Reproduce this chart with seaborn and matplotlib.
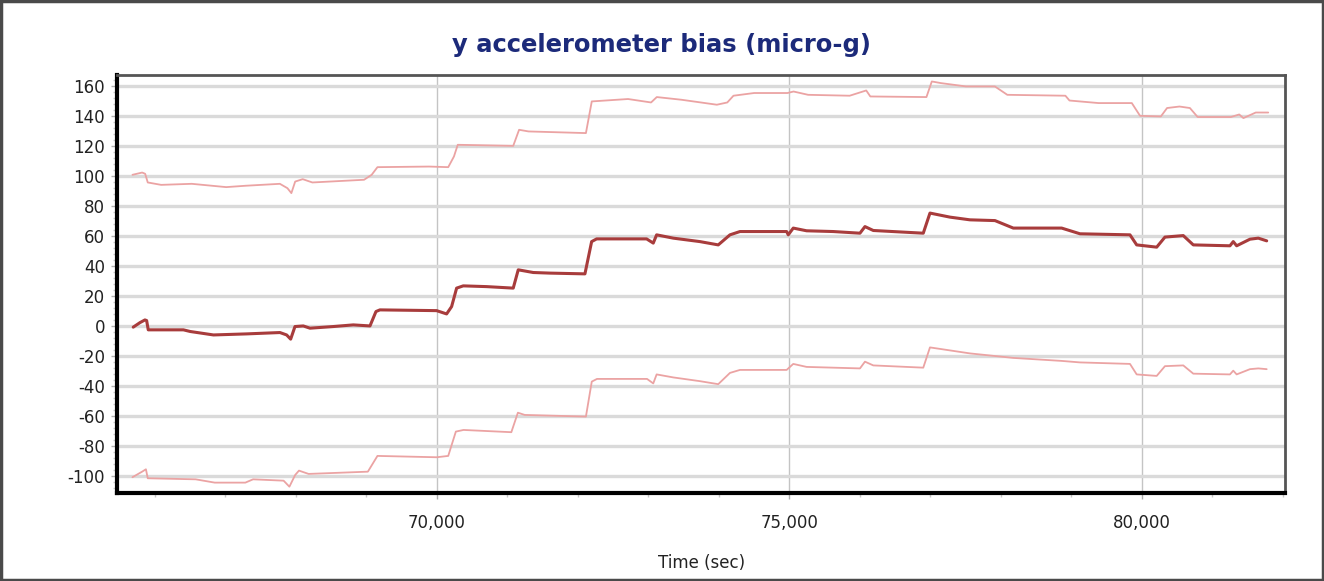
"""y accelerometer bias estimate with its upper and lower bounds over time."""

import matplotlib

matplotlib.use("Agg")

import matplotlib.pyplot as plt
import seaborn as sns
from matplotlib.patches import Rectangle
from matplotlib.ticker import FuncFormatter, MultipleLocator

# estimated bias (thick dark red line)
mean_time = [
    65692, 65787, 65858, 65882, 65905, 66404, 66500, 66830, 67300, 67773,
    67868, 67925, 67986, 68104, 68199, 68530, 68813, 69050, 69135, 69191,
    69995, 70137, 70208, 70279, 70373, 70705, 71082, 71153, 71366, 71603,
    72099, 72194, 72265, 72974, 73068, 73116, 73352, 73730, 73990, 74156,
    74298, 74960, 74983, 75054, 75243, 75621, 76000, 76071, 76189, 76898,
    76993, 77277, 77560, 77915, 78175, 78861, 79121, 79830, 79925, 80209,
    80326, 80586, 80728, 81248, 81295, 81343, 81532, 81650, 81769,
]
mean_bias = [
    -0.5, 2.5, 4.3, 3.9, -2.3, -2.3, -3.4, -5.7, -5.0, -4.1,
    -5.7, -8.5, -0.1, 0.3, -1.2, -0.1, 1.0, 0.3, 9.9, 11.0,
    10.5, 8.3, 13.2, 25.5, 27.0, 26.5, 25.5, 37.7, 35.9, 35.5,
    35.0, 56.5, 58.3, 58.3, 55.5, 61.0, 58.8, 56.5, 54.3, 61.0,
    63.2, 63.2, 61.0, 65.5, 63.7, 63.2, 62.1, 66.5, 63.9, 62.1,
    75.5, 72.8, 71.0, 70.5, 65.5, 65.5, 61.7, 61.0, 54.3, 52.8,
    59.5, 60.5, 54.3, 53.7, 56.5, 53.7, 58.1, 58.8, 57.0,
]

# upper bound (thin pink line)
upper_time = [
    65681, 65818, 65861, 65898, 66088, 66522, 67011, 67282, 67772, 67879,
    67935, 67989, 68096, 68233, 68966, 69074, 69156, 69888, 70160, 70241,
    70295, 71082, 71165, 71299, 72113, 72196, 72711, 73037, 73118, 73471,
    73970, 74118, 74206, 74499, 74972, 75058, 75265, 75854, 76089, 76147,
    76943, 77019, 77149, 77502, 77913, 78090, 78914, 78972, 79385, 79856,
    79973, 80268, 80356, 80532, 80680, 80790, 81262, 81379, 81439, 81614,
    81791,
]
upper_bias = [
    101.0, 102.5, 101.7, 95.9, 94.3, 95.0, 92.8, 93.7, 95.0, 92.1,
    88.8, 96.5, 98.1, 95.9, 97.7, 101.0, 106.1, 106.5, 106.1, 113.2,
    121.0, 120.3, 131.0, 129.9, 128.8, 149.9, 151.5, 149.2, 152.8, 151.0,
    147.7, 149.2, 153.7, 155.5, 155.5, 156.5, 154.3, 153.7, 157.2, 153.2,
    152.8, 163.2, 162.1, 159.9, 159.9, 154.3, 153.7, 150.5, 148.8, 148.8,
    140.3, 139.9, 145.5, 146.5, 145.5, 139.5, 139.5, 141.2, 138.8, 142.5,
    142.5,
]

# lower bound (thin pink line)
lower_time = [
    65681, 65818, 65872, 65898, 66577, 66848, 67282, 67392, 67825, 67907,
    67989, 68043, 68179, 69020, 69156, 69997, 70160, 70268, 70377, 71055,
    71148, 71245, 72113, 72196, 72270, 72980, 73068, 73116, 73352, 73730,
    73990, 74156, 74298, 74960, 75054, 75243, 75621, 76000, 76071, 76189,
    76898, 76993, 77277, 77560, 78175, 78861, 79121, 79830, 79925, 80209,
    80326, 80586, 80728, 81248, 81295, 81343, 81532, 81650, 81769,
]
lower_bias = [
    -100.5, -96.8, -95.2, -101.2, -101.9, -104.1, -104.1, -101.9, -102.8, -106.8,
    -99.0, -96.1, -98.3, -96.8, -86.3, -87.2, -86.3, -70.1, -69.0, -70.5,
    -57.5, -59.0, -60.1, -36.8, -35.0, -35.0, -38.0, -32.0, -34.0, -36.5,
    -38.5, -31.0, -29.0, -29.0, -25.0, -27.0, -27.5, -28.0, -23.5, -26.0,
    -27.5, -14.0, -16.0, -18.0, -21.0, -23.0, -24.0, -25.0, -32.0, -33.0,
    -26.5, -26.0, -31.5, -32.0, -29.5, -32.0, -28.5, -28.0, -28.5,
]

TITLE = "y accelerometer bias (micro-g)"
X_LABEL = "Time (sec)"


def main() -> None:
    sns.set_theme(style="white")
    plt.rcParams["font.family"] = ["DejaVu Sans"]
    plt.rcParams["axes.unicode_minus"] = False

    fig = plt.figure(figsize=(13.24, 5.81), dpi=100)
    ax = fig.add_axes([0.0887, 0.1515, 0.8818, 0.7194])

    sns.lineplot(x=upper_time, y=upper_bias, ax=ax, color="#eba3a3", linewidth=1.3)
    sns.lineplot(x=lower_time, y=lower_bias, ax=ax, color="#eba3a3", linewidth=1.3)
    sns.lineplot(x=mean_time, y=mean_bias, ax=ax, color="#a83c3c", linewidth=2.2)

    ax.set_xlim(65468, 82028)
    ax.set_ylim(-111, 167.5)

    ax.xaxis.set_major_locator(MultipleLocator(5000))
    ax.xaxis.set_minor_locator(MultipleLocator(1000))
    ax.xaxis.set_major_formatter(FuncFormatter(lambda v, _: f"{int(v):,}"))
    ax.yaxis.set_major_locator(MultipleLocator(20))
    ax.yaxis.set_minor_locator(MultipleLocator(4))

    ax.grid(axis="y", which="major", color="#dadada", linewidth=2.4)
    ax.grid(axis="x", which="major", color="#c4c4c4", linewidth=1.0)
    ax.set_axisbelow(True)

    ax.tick_params(axis="both", which="major", direction="out", length=4,
                   width=1, color="#b0b0b0", labelsize=12, labelcolor="#222222")
    ax.tick_params(axis="both", which="minor", direction="out", length=3,
                   width=1, color="#c8c8c8")
    ax.tick_params(axis="x", which="both", bottom=True)
    ax.tick_params(axis="x", which="major", pad=11)
    ax.tick_params(axis="y", which="both", left=True)
    ax.tick_params(axis="y", which="major", pad=5)

    ax.spines["left"].set_color("black")
    ax.spines["left"].set_linewidth(3)
    ax.spines["bottom"].set_color("black")
    ax.spines["bottom"].set_linewidth(3)
    ax.spines["top"].set_color("#555555")
    ax.spines["top"].set_linewidth(2)
    ax.spines["right"].set_color("#555555")
    ax.spines["right"].set_linewidth(2)

    ax.set_xlabel(X_LABEL, fontsize=12, color="#222222", labelpad=16)
    ax.set_ylabel("")

    fig.text(0.5, 1 - 45 / 581, TITLE, ha="center", va="center",
             fontsize=17.5, fontweight="bold", color="#1c2a7a")

    fig.patches.append(Rectangle((0.001, 0.002), 0.998, 0.996,
                                 transform=fig.transFigure, fill=False,
                                 edgecolor="#4a4a4a", linewidth=2.5))

    fig.savefig("out.png", dpi=100)
    plt.close(fig)


if __name__ == "__main__":
    main()
